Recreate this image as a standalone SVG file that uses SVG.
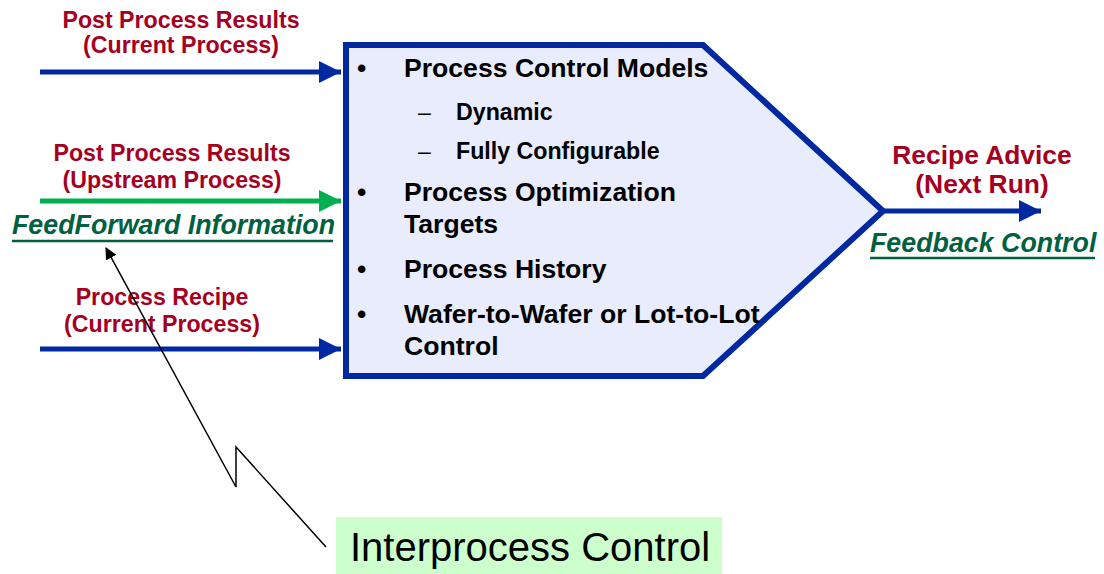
<svg xmlns="http://www.w3.org/2000/svg" width="1104" height="574" viewBox="0 0 1104 574">
  <defs>
    <marker id="headBlue" markerUnits="userSpaceOnUse" markerWidth="22" markerHeight="22" viewBox="0 0 20 20" refX="20" refY="10" orient="auto">
      <path d="M0,0 L20,10 L0,20 Z" fill="#0028a0"/>
    </marker>
    <marker id="headGreen" markerUnits="userSpaceOnUse" markerWidth="22" markerHeight="22" viewBox="0 0 20 20" refX="20" refY="10" orient="auto">
      <path d="M0,0 L20,10 L0,20 Z" fill="#00b050"/>
    </marker>
    <marker id="headBlack" markerUnits="userSpaceOnUse" markerWidth="12" markerHeight="12" viewBox="0 0 12 12" refX="1" refY="6" orient="auto">
      <path d="M0,6 L12,0 L12,12 Z" fill="#000"/>
    </marker>
  </defs>
  <style>
    .lbl { font-family: "Liberation Sans", Arial, sans-serif; font-weight: bold; font-size: 23.2px; fill: #a50021; text-anchor: middle; }
    .lblR { font-family: "Liberation Sans", Arial, sans-serif; font-weight: bold; font-size: 26.4px; fill: #a50021; text-anchor: middle; }
    .ctl { font-family: "Liberation Sans", Arial, sans-serif; font-weight: bold; font-style: italic; font-size: 26.8px; fill: #006040; }
    .ul { stroke: #006040; stroke-width: 2.5; }
    .main { font-family: "Liberation Sans", Arial, sans-serif; font-weight: bold; font-size: 26.6px; fill: #000; }
    .sub { font-family: "Liberation Sans", Arial, sans-serif; font-weight: bold; font-size: 23.2px; fill: #000; }
    .dash { font-family: "Liberation Sans", Arial, sans-serif; font-size: 23px; fill: #000; }
    .blue { stroke: #0028a0; stroke-width: 5; fill: none; }
    .green { stroke: #00b050; stroke-width: 5; fill: none; }
    .thin { stroke: #000; stroke-width: 1.5; fill: none; }
  </style>

  <!-- central controller block -->
  <g id="controller">
    <path d="M346,45 L703,45 L883,211 L703,376 L346,376 Z" fill="#e8ecfc" stroke="#0028a0" stroke-width="6" stroke-linejoin="miter"/>
    <text class="main" x="357" y="77">•</text>
    <text class="main" x="404" y="77">Process Control Models</text>
    <text class="dash" x="418" y="120">–</text>
    <text class="sub" x="456" y="120">Dynamic</text>
    <text class="dash" x="418" y="159">–</text>
    <text class="sub" x="456" y="159">Fully Configurable</text>
    <text class="main" x="357" y="201">•</text>
    <text class="main" x="404" y="201">Process Optimization</text>
    <text class="main" x="404" y="233">Targets</text>
    <text class="main" x="357" y="278">•</text>
    <text class="main" x="404" y="278">Process History</text>
    <text class="main" x="357" y="323">•</text>
    <text class="main" x="404" y="323">Wafer-to-Wafer or Lot-to-Lot</text>
    <text class="main" x="404" y="355">Control</text>
  </g>

  <!-- input and output labels -->
  <g id="in-current-results">
    <text class="lbl" x="181" y="28">Post Process Results</text>
    <text class="lbl" x="181" y="53">(Current Process)</text>
  </g>
  <g id="in-upstream-results">
    <text class="lbl" x="172" y="161">Post Process Results</text>
    <text class="lbl" x="172" y="188">(Upstream Process)</text>
    <text class="ctl" x="12" y="234">FeedForward Information</text>
    <line class="ul" x1="12" y1="241" x2="333" y2="241"/>
  </g>
  <g id="in-recipe">
    <text class="lbl" x="162" y="305">Process Recipe</text>
    <text class="lbl" x="162" y="332">(Current Process)</text>
  </g>
  <g id="out-advice">
    <text class="lblR" x="982" y="164">Recipe Advice</text>
    <text class="lblR" x="982" y="193">(Next Run)</text>
    <text class="ctl" x="870" y="252">Feedback Control</text>
    <line class="ul" x1="870" y1="258" x2="1095" y2="258"/>
  </g>
  <g id="interprocess">
    <rect x="336" y="517" width="386" height="60" fill="#ccffcc"/>
    <text x="350" y="561" font-family="'Liberation Sans', Arial, sans-serif" font-size="40" fill="#000">Interprocess Control</text>
  </g>

  <!-- connectors -->
  <g id="connectors">
    <line class="blue" x1="40" y1="72" x2="341" y2="72" marker-end="url(#headBlue)"/>
    <line class="green" x1="40" y1="201" x2="341" y2="201" marker-end="url(#headGreen)"/>
    <line class="blue" x1="40" y1="349" x2="341" y2="349" marker-end="url(#headBlue)"/>
    <line class="blue" x1="883" y1="211" x2="1041" y2="211" marker-end="url(#headBlue)"/>
    <polyline class="thin" points="106,248 236,487 236,447 326,547" marker-start="url(#headBlack)"/>
  </g>
</svg>
